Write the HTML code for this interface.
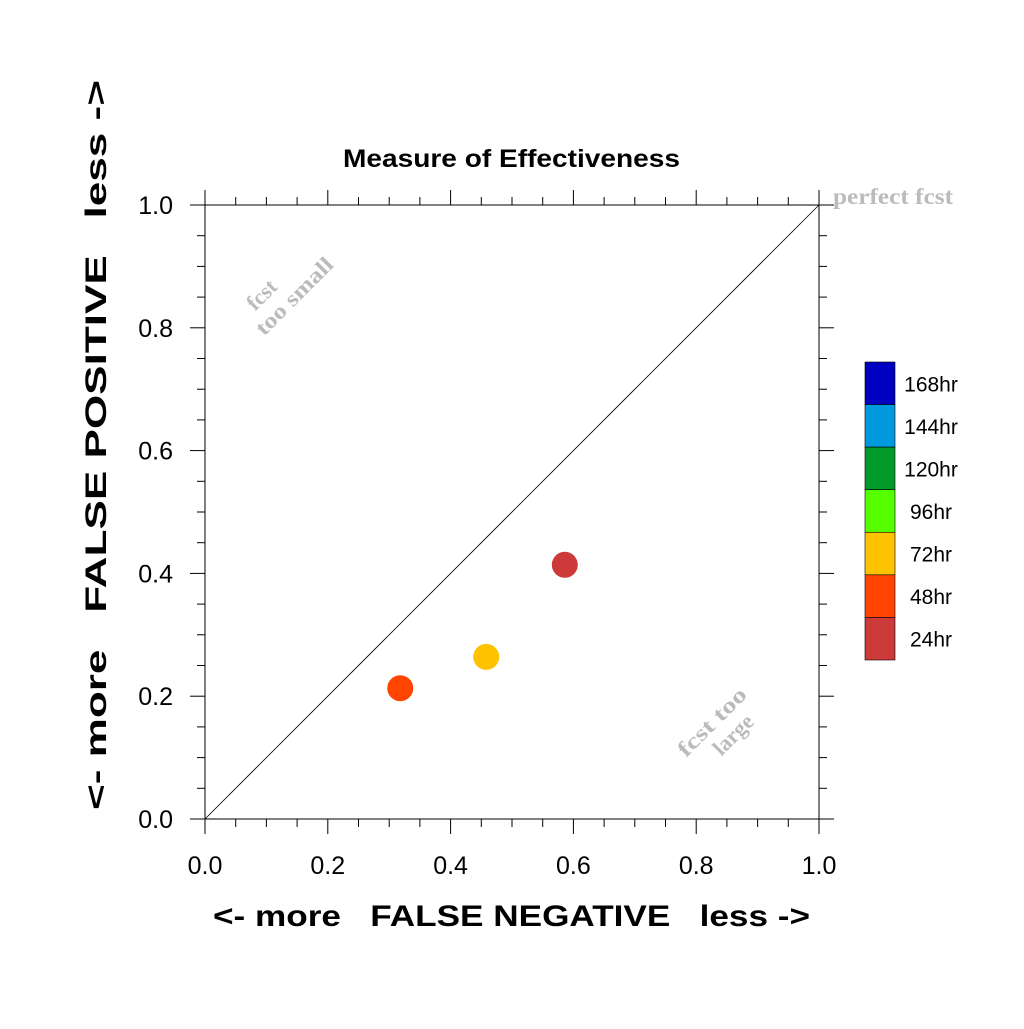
<!DOCTYPE html>
<html><head><meta charset="utf-8"><style>
body{margin:0;background:#fff}
svg text{font-family:"Liberation Sans",sans-serif}
</style></head><body>
<svg id="c" width="1024" height="1024" viewBox="0 0 1024 1024" xmlns="http://www.w3.org/2000/svg">
<text x="343" y="167" textLength="337" lengthAdjust="spacingAndGlyphs" font-size="25" font-weight="bold">Measure of Effectiveness</text>
<g id="axes"></g>
<line x1="205" y1="819" x2="819" y2="205" stroke="#000" stroke-width="0.8"/>
<text x="833" y="204" textLength="120" lengthAdjust="spacingAndGlyphs" font-weight="bold" font-size="23" fill="#bbb" style="font-family:'Liberation Serif',serif">perfect fcst</text>
<g transform="translate(288,290) rotate(-45)" fill="#bbb" font-weight="bold" font-size="22">
<text x="-22" y="-8" text-anchor="middle" style="font-family:'Liberation Serif',serif">fcst</text>
<text x="0" y="16" text-anchor="middle" textLength="100" lengthAdjust="spacingAndGlyphs" style="font-family:'Liberation Serif',serif">too small</text></g>
<g transform="translate(722,732) rotate(-45)" fill="#bbb" font-weight="bold" font-size="22">
<text x="0" y="-7" text-anchor="middle" textLength="88" lengthAdjust="spacingAndGlyphs" style="font-family:'Liberation Serif',serif">fcst too</text>
<text x="6" y="17" text-anchor="middle" style="font-family:'Liberation Serif',serif">large</text></g>
<g id="pts"></g>
<g id="leg"></g>
<text x="213" y="926" textLength="597" lengthAdjust="spacingAndGlyphs" font-size="30" font-weight="bold" xml:space="preserve">&lt;- more   FALSE NEGATIVE   less -&gt;</text>
<text transform="translate(106,810) rotate(-90)" x="0" y="0" textLength="730" lengthAdjust="spacingAndGlyphs" font-size="30" font-weight="bold" xml:space="preserve">&lt;- more   FALSE POSITIVE   less -&gt;</text>
</svg>
<script>
const tickLabels=["0.0","0.2","0.4","0.6","0.8","1.0"];
const tickValues=[0,0.2,0.4,0.6,0.8,1.0];
const leadLabels=["24hr","48hr","72hr"];
const falseNeg=[0.586,0.318,0.458];
const falsePos=[0.414,0.213,0.264];
const pointColors=["#cc3a3a","#ff4500","#ffc200"];
const legendLabels=["168hr","144hr","120hr","96hr","72hr","48hr","24hr"];
const legendColors=["#0000c0","#0099dd","#00992a","#55ff00","#ffc200","#ff4500","#cc3a3a"];
const NS="http://www.w3.org/2000/svg";
const X0=205,X1=819,Y0=819,Y1=205;
const sx=v=>X0+v*(X1-X0), sy=v=>Y0-v*(Y0-Y1);
function mk(p,t,a){const e=document.createElementNS(NS,t);for(const k in a)e.setAttribute(k,a[k]);p.appendChild(e);return e;}
const ax=document.getElementById('axes');
const st={stroke:"#000","stroke-width":1};
mk(ax,'line',Object.assign({x1:190,y1:Y0,x2:834,y2:Y0},st));
mk(ax,'line',Object.assign({x1:190,y1:Y1,x2:834,y2:Y1},st));
mk(ax,'line',Object.assign({x1:X0,y1:190,x2:X0,y2:834},st));
mk(ax,'line',Object.assign({x1:X1,y1:190,x2:X1,y2:834},st));
for(let i=0;i<=20;i++){
  const v=i/20, major=i%4===0, L=major?15:8;
  if(i===0||i===20)continue;
  const x=sx(v),y=sy(v);
  mk(ax,'line',Object.assign({x1:x,y1:Y0,x2:x,y2:Y0+L},st));
  mk(ax,'line',Object.assign({x1:x,y1:Y1,x2:x,y2:Y1-L},st));
  mk(ax,'line',Object.assign({x1:X0,y1:y,x2:X0-L,y2:y},st));
  mk(ax,'line',Object.assign({x1:X1,y1:y,x2:X1+L,y2:y},st));
}
tickValues.forEach((v,i)=>{
  const t=mk(ax,'text',{x:sx(v),y:874,'text-anchor':'middle','font-size':25});
  t.textContent=tickLabels[i];
  
  
  const u=mk(ax,'text',{x:173,y:sy(v)+9,'text-anchor':'end','font-size':25});
  u.textContent=tickLabels[i];
  
  
});
const pg=document.getElementById('pts');
falseNeg.forEach((v,i)=>{
  const c=mk(pg,'circle',{cx:sx(v),cy:sy(falsePos[i]),r:13,fill:pointColors[i]});
  
  
});
const lg=document.getElementById('leg');
const bh=(660-362)/legendLabels.length;
legendLabels.forEach((l,i)=>{
  const y=362+i*bh;
  const r=mk(lg,'rect',{x:865,y:y,width:30,height:bh,fill:legendColors[i],stroke:"#000","stroke-width":0.6});
  
  
  const t=mk(lg,'text',{x:931,y:y+bh/2+8,'text-anchor':'middle','font-size':21});
  t.textContent=l;
  
  
});
</script>
</body></html>
